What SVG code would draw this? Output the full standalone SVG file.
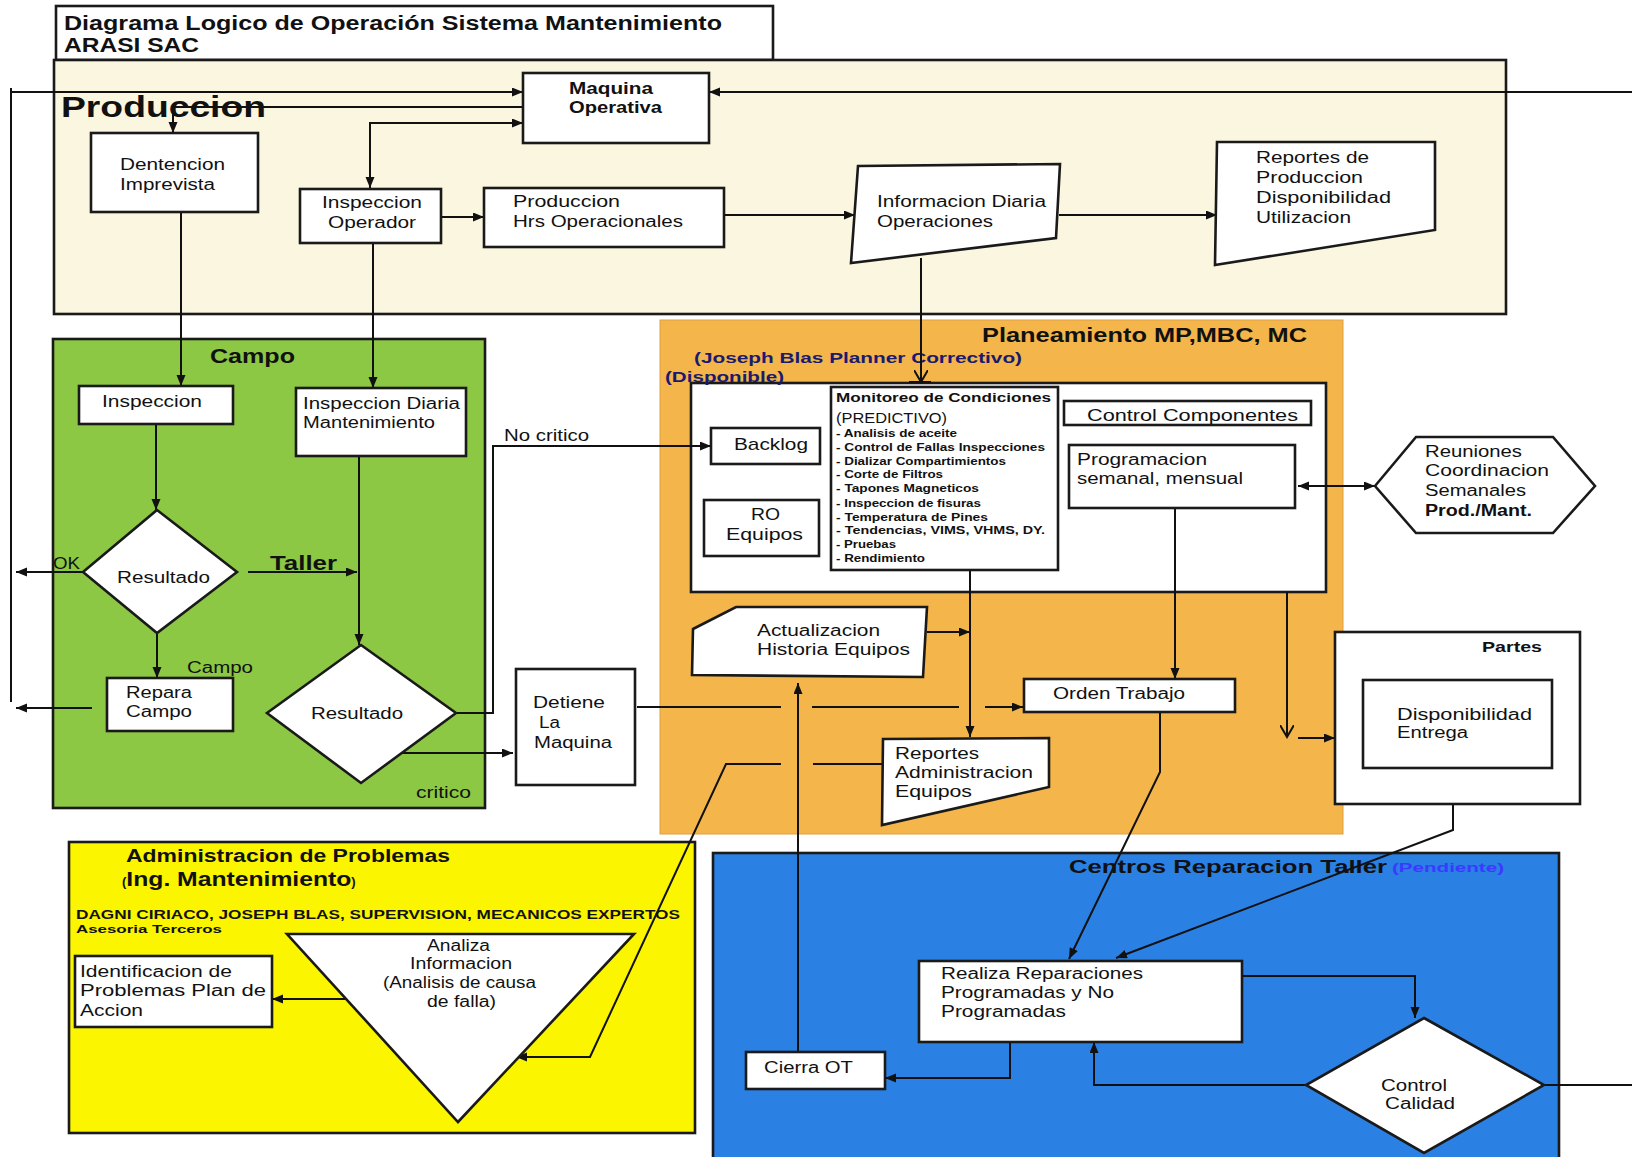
<svg xmlns="http://www.w3.org/2000/svg" width="1632" height="1157" viewBox="0 0 1632 1157">
<style>
  text { font-family: "Liberation Sans", Arial, sans-serif; fill: #111; }
  .t16 { font-size: 16px; }
  .b { font-weight: bold; }
  .box { fill: #fff; stroke: #1a1a1a; stroke-width: 2.6; }
  .lane { stroke: #1a1a1a; stroke-width: 2.6; }
  .ln { fill: none; stroke: #111; stroke-width: 2; }
  .arr { marker-end: url(#ah); }
  .dbl { marker-start: url(#ah); marker-end: url(#ah); }
  .opn { marker-end: url(#av); }
  .item { font-size: 11px; font-weight: bold; }
</style>
<defs>
  <marker id="ah" markerUnits="userSpaceOnUse" markerWidth="12" markerHeight="10" refX="11" refY="4.5" orient="auto-start-reverse">
    <path d="M0,0 L11,4.5 L0,9 z" fill="#111"/>
  </marker>
  <marker id="av" markerUnits="userSpaceOnUse" markerWidth="14" markerHeight="14" refX="12" refY="7" orient="auto">
    <path d="M0,0 L12,7 L0,14" fill="none" stroke="#111" stroke-width="2"/>
  </marker>
</defs>

<rect width="1632" height="1157" fill="#fff"/>

<!-- Title -->
<g id="title">
  <rect x="56" y="6" width="717" height="54" class="box"/>
  <text x="64" y="30" class="b" font-size="20" textLength="658" lengthAdjust="spacingAndGlyphs">Diagrama Logico de Operación Sistema Mantenimiento</text>
  <text x="64" y="52" class="b" font-size="20" textLength="135" lengthAdjust="spacingAndGlyphs">ARASI SAC</text>
</g>

<!-- Swimlanes -->
<g id="lane-produccion">
  <rect x="54" y="60" width="1452" height="254" fill="#faf6df" class="lane"/>
  <text x="61" y="117" class="b" font-size="29" textLength="205" lengthAdjust="spacingAndGlyphs">Produccion</text>
</g>
<g id="lane-campo">
  <rect x="53" y="339" width="432" height="469" fill="#8cc843" class="lane"/>
  <text x="210" y="363" class="b" font-size="20" textLength="85" lengthAdjust="spacingAndGlyphs">Campo</text>
</g>
<g id="lane-planeamiento">
  <rect x="660" y="320" width="683" height="514" fill="#f4b54a" stroke="#e0a040" stroke-width="1"/>
  <text x="982" y="342" class="b" font-size="20" textLength="325" lengthAdjust="spacingAndGlyphs">Planeamiento MP,MBC, MC</text>
  <rect x="691" y="383" width="635" height="209" class="box"/>
  <text x="694" y="363" class="b" font-size="15" style="fill:#1a1a6e" textLength="328" lengthAdjust="spacingAndGlyphs">(Joseph Blas Planner Correctivo)</text>
  <text x="665" y="382" class="b" font-size="15" style="fill:#1a1a6e" textLength="119" lengthAdjust="spacingAndGlyphs">(Disponible)</text>
</g>
<g id="lane-administracion">
  <rect x="69" y="842" width="626" height="291" fill="#fbf500" class="lane"/>
  <text x="126" y="862" class="b" font-size="18" textLength="324" lengthAdjust="spacingAndGlyphs">Administracion de Problemas</text>
  <text x="122" y="886" class="b" font-size="20"><tspan font-size="13">(</tspan><tspan textLength="225" lengthAdjust="spacingAndGlyphs">Ing. Mantenimiento</tspan><tspan font-size="13">)</tspan></text>
  <text x="76" y="919" class="b" font-size="13" textLength="604" lengthAdjust="spacingAndGlyphs">DAGNI CIRIACO, JOSEPH BLAS,  SUPERVISION,  MECANICOS EXPERTOS</text>
  <text x="76" y="933" class="b" font-size="11" textLength="146" lengthAdjust="spacingAndGlyphs">Asesoria Terceros</text>
</g>
<g id="lane-taller">
  <rect x="713" y="853" width="846" height="310" fill="#2b80e3" class="lane"/>
  <text x="1069" y="873" class="b" font-size="18" textLength="318" lengthAdjust="spacingAndGlyphs">Centros Reparacion Taller</text>
  <text x="1392" y="872" class="b" font-size="12" style="fill:#3a3aff" textLength="112" lengthAdjust="spacingAndGlyphs">(Pendiente)</text>
</g>

<!-- Connectors -->
<g id="connectors">
  <path class="ln" d="M11,88 V702"/>
  <path class="ln arr" d="M11,92 H523"/>
  <path class="ln arr" d="M83,572 H16"/>
  <path class="ln arr" d="M92,708 H16"/>
  <path class="ln arr" d="M523,107 H173 V133"/>
  <path class="ln dbl" d="M370,188 V123 H523"/>
  <path class="ln arr" d="M1632,92 H709"/>
  <path class="ln arr" d="M441,217 H484"/>
  <path class="ln arr" d="M724,215 H855"/>
  <path class="ln arr" d="M1059,215 H1217"/>
  <path class="ln opn" d="M921,258 V382"/>
  <path class="ln" d="M909,382 H931"/>
  <path class="ln arr" d="M181,212 V386"/>
  <path class="ln arr" d="M373,243 V388"/>
  <path class="ln arr" d="M156,424 V510"/>
  <path class="ln arr" d="M248,572 H357"/>
  <path class="ln arr" d="M157,633 V678"/>
  <path class="ln arr" d="M359,456 V645"/>
  <path class="ln arr" d="M456,713 H493 V446 H711"/>
  <path class="ln arr" d="M402,753 H513"/>
  <path class="ln" d="M637,707 H781 M812,707 H959"/>
  <path class="ln arr" d="M985,707 H1023"/>
  <path class="ln arr" d="M970,570 V737"/>
  <path class="ln arr" d="M927,632 H970"/>
  <path class="ln arr" d="M1175,508 V679"/>
  <path class="ln opn" d="M1287,592 V737"/>
  <path class="ln arr" d="M1298,738 H1335"/>
  <path class="ln dbl" d="M1298,486 H1375"/>
  <path class="ln arr" d="M798,1052 V683"/>
  <path class="ln" d="M883,764 H813"/>
  <path class="ln arr" d="M781,764 H726 L590,1057 H516"/>
  <path class="ln arr" d="M1160,712 V772 L1069,959"/>
  <path class="ln arr" d="M1453,804 V830 L1116,958"/>
  <path class="ln arr" d="M1242,976 H1415 V1018"/>
  <path class="ln arr" d="M1010,1042 V1078 H885"/>
  <path class="ln arr" d="M1306,1085 H1094 V1042"/>
  <path class="ln" d="M1523,1085 H1632"/>
  <path class="ln arr" d="M346,999 H272"/>
</g>

<!-- Produccion nodes -->
<g id="maquina-operativa">
  <rect x="523" y="73" width="186" height="70" class="box"/>
  <text x="569" y="94" class="b" font-size="16" textLength="84" lengthAdjust="spacingAndGlyphs">Maquina</text>
  <text x="569" y="113" class="b" font-size="16" textLength="93" lengthAdjust="spacingAndGlyphs">Operativa</text>
</g>
<g id="dentencion">
  <rect x="91" y="133" width="167" height="79" class="box"/>
  <text x="120" y="170" class="t16" textLength="105" lengthAdjust="spacingAndGlyphs">Dentencion</text>
  <text x="120" y="190" class="t16" textLength="95" lengthAdjust="spacingAndGlyphs">Imprevista</text>
</g>
<g id="inspeccion-operador">
  <rect x="300" y="189" width="141" height="54" class="box"/>
  <text x="322" y="208" class="t16" textLength="100" lengthAdjust="spacingAndGlyphs">Inspeccion</text>
  <text x="328" y="228" class="t16" textLength="88" lengthAdjust="spacingAndGlyphs">Operador</text>
</g>
<g id="produccion-hrs">
  <rect x="484" y="188" width="240" height="59" class="box"/>
  <text x="513" y="207" class="t16" textLength="107" lengthAdjust="spacingAndGlyphs">Produccion</text>
  <text x="513" y="227" class="t16" textLength="170" lengthAdjust="spacingAndGlyphs">Hrs Operacionales</text>
</g>
<g id="informacion-diaria">
  <polygon points="858,166 1060,164 1056,238 851,263" class="box"/>
  <text x="877" y="207" class="t16" textLength="169" lengthAdjust="spacingAndGlyphs">Informacion Diaria</text>
  <text x="877" y="227" class="t16" textLength="116" lengthAdjust="spacingAndGlyphs">Operaciones</text>
</g>
<g id="reportes-produccion">
  <polygon points="1217,142 1435,142 1435,230 1215,265" class="box"/>
  <text x="1256" y="163" class="t16" textLength="113" lengthAdjust="spacingAndGlyphs">Reportes de</text>
  <text x="1256" y="183" class="t16" textLength="107" lengthAdjust="spacingAndGlyphs">Produccion</text>
  <text x="1256" y="203" class="t16" textLength="135" lengthAdjust="spacingAndGlyphs">Disponibilidad</text>
  <text x="1256" y="223" class="t16" textLength="95" lengthAdjust="spacingAndGlyphs">Utilizacion</text>
</g>

<!-- Campo nodes -->
<g id="inspeccion">
  <rect x="79" y="386" width="154" height="38" class="box"/>
  <text x="102" y="407" class="t16" textLength="100" lengthAdjust="spacingAndGlyphs">Inspeccion</text>
</g>
<g id="inspeccion-diaria">
  <rect x="296" y="388" width="170" height="68" class="box"/>
  <text x="303" y="409" class="t16" textLength="157" lengthAdjust="spacingAndGlyphs">Inspeccion Diaria</text>
  <text x="303" y="428" class="t16" textLength="132" lengthAdjust="spacingAndGlyphs">Mantenimiento</text>
</g>
<g id="resultado-1">
  <polygon points="157,510 237,572 157,633 83,572" class="box"/>
  <text x="117" y="583" class="t16" textLength="93" lengthAdjust="spacingAndGlyphs">Resultado</text>
</g>
<g id="repara-campo">
  <rect x="107" y="678" width="126" height="53" class="box"/>
  <text x="126" y="698" class="t16" textLength="66" lengthAdjust="spacingAndGlyphs">Repara</text>
  <text x="126" y="717" class="t16" textLength="66" lengthAdjust="spacingAndGlyphs">Campo</text>
</g>
<g id="resultado-2">
  <polygon points="361,645 456,713 361,783 267,713" class="box"/>
  <text x="311" y="719" class="t16" textLength="92" lengthAdjust="spacingAndGlyphs">Resultado</text>
</g>
<g id="labels-campo">
  <text x="53" y="569" class="t16" textLength="27" lengthAdjust="spacingAndGlyphs">OK</text>
  <text x="270" y="570" class="b" font-size="20" textLength="67" lengthAdjust="spacingAndGlyphs">Taller</text>
  <text x="187" y="673" class="t16" textLength="66" lengthAdjust="spacingAndGlyphs">Campo</text>
  <text x="504" y="441" class="t16" textLength="85" lengthAdjust="spacingAndGlyphs">No critico</text>
  <text x="416" y="798" class="t16" textLength="55" lengthAdjust="spacingAndGlyphs">critico</text>
</g>
<g id="detiene-maquina">
  <rect x="516" y="669" width="119" height="116" class="box"/>
  <text x="533" y="708" class="t16" textLength="72" lengthAdjust="spacingAndGlyphs">Detiene</text>
  <text x="539" y="728" class="t16" textLength="21" lengthAdjust="spacingAndGlyphs">La</text>
  <text x="534" y="748" class="t16" textLength="78" lengthAdjust="spacingAndGlyphs">Maquina</text>
</g>

<!-- Planeamiento nodes -->
<g id="backlog">
  <rect x="711" y="428" width="109" height="36" class="box"/>
  <text x="734" y="450" font-size="17" textLength="74" lengthAdjust="spacingAndGlyphs">Backlog</text>
</g>
<g id="ro-equipos">
  <rect x="704" y="500" width="115" height="56" class="box"/>
  <text x="751" y="520" font-size="17" textLength="29" lengthAdjust="spacingAndGlyphs">RO</text>
  <text x="726" y="540" font-size="17" textLength="77" lengthAdjust="spacingAndGlyphs">Equipos</text>
</g>
<g id="monitoreo">
  <rect x="831" y="387" width="227" height="183" class="box"/>
  <text x="836" y="402" class="b" font-size="12" textLength="215" lengthAdjust="spacingAndGlyphs">Monitoreo de Condiciones</text>
  <text x="836" y="423" font-size="14" textLength="111" lengthAdjust="spacingAndGlyphs">(PREDICTIVO)</text>
  <text x="836" y="437" class="item" textLength="121" lengthAdjust="spacingAndGlyphs">- Analisis de aceite</text>
  <text x="836" y="451" class="item" textLength="209" lengthAdjust="spacingAndGlyphs">- Control de Fallas Inspecciones</text>
  <text x="836" y="465" class="item" textLength="170" lengthAdjust="spacingAndGlyphs">- Dializar Compartimientos</text>
  <text x="836" y="478" class="item" textLength="107" lengthAdjust="spacingAndGlyphs">- Corte de Filtros</text>
  <text x="836" y="492" class="item" textLength="143" lengthAdjust="spacingAndGlyphs">- Tapones Magneticos</text>
  <text x="836" y="507" class="item" textLength="145" lengthAdjust="spacingAndGlyphs">- Inspeccion de fisuras</text>
  <text x="836" y="521" class="item" textLength="152" lengthAdjust="spacingAndGlyphs">- Temperatura de Pines</text>
  <text x="836" y="534" class="item" textLength="209" lengthAdjust="spacingAndGlyphs">- Tendencias, VIMS, VHMS, DY.</text>
  <text x="836" y="548" class="item" textLength="60" lengthAdjust="spacingAndGlyphs">- Pruebas</text>
  <text x="836" y="562" class="item" textLength="89" lengthAdjust="spacingAndGlyphs">- Rendimiento</text>
</g>
<g id="control-componentes">
  <rect x="1064" y="401" width="247" height="24" class="box"/>
  <text x="1087" y="421" class="t16" textLength="211" lengthAdjust="spacingAndGlyphs">Control  Componentes</text>
</g>
<g id="programacion">
  <rect x="1069" y="445" width="226" height="63" class="box"/>
  <text x="1077" y="465" class="t16" textLength="130" lengthAdjust="spacingAndGlyphs">Programacion</text>
  <text x="1077" y="484" class="t16" textLength="166" lengthAdjust="spacingAndGlyphs">semanal, mensual</text>
</g>
<g id="actualizacion">
  <polygon points="693,629 736,607 927,607 923,677 692,675" class="box"/>
  <text x="757" y="636" class="t16" textLength="123" lengthAdjust="spacingAndGlyphs">Actualizacion</text>
  <text x="757" y="655" class="t16" textLength="153" lengthAdjust="spacingAndGlyphs">Historia Equipos</text>
</g>
<g id="orden-trabajo">
  <rect x="1024" y="679" width="211" height="33" class="box"/>
  <text x="1053" y="699" class="t16" textLength="132" lengthAdjust="spacingAndGlyphs">Orden Trabajo</text>
</g>
<g id="reportes-administracion">
  <polygon points="883,739 1049,738 1049,787 882,825" class="box"/>
  <text x="895" y="759" class="t16" textLength="84" lengthAdjust="spacingAndGlyphs">Reportes</text>
  <text x="895" y="778" class="t16" textLength="138" lengthAdjust="spacingAndGlyphs">Administracion</text>
  <text x="895" y="797" class="t16" textLength="77" lengthAdjust="spacingAndGlyphs">Equipos</text>
</g>

<!-- Right side nodes -->
<g id="reuniones">
  <polygon points="1375,486 1416,437 1553,437 1595,486 1553,533 1416,533" class="box"/>
  <text x="1425" y="457" class="t16" textLength="97" lengthAdjust="spacingAndGlyphs">Reuniones</text>
  <text x="1425" y="476" class="t16" textLength="124" lengthAdjust="spacingAndGlyphs">Coordinacion</text>
  <text x="1425" y="496" class="t16" textLength="101" lengthAdjust="spacingAndGlyphs">Semanales</text>
  <text x="1425" y="516" class="t16 b" textLength="107" lengthAdjust="spacingAndGlyphs">Prod./Mant.</text>
</g>
<g id="partes">
  <rect x="1335" y="632" width="245" height="172" class="box"/>
  <text x="1482" y="652" class="b" font-size="15" textLength="60" lengthAdjust="spacingAndGlyphs">Partes</text>
  <rect x="1363" y="680" width="189" height="88" class="box"/>
  <text x="1397" y="720" class="t16" textLength="135" lengthAdjust="spacingAndGlyphs">Disponibilidad</text>
  <text x="1397" y="738" class="t16" textLength="71" lengthAdjust="spacingAndGlyphs">Entrega</text>
</g>

<!-- Administracion nodes -->
<g id="analiza">
  <polygon points="287,934 634,934 458,1122" class="box"/>
  <text x="427" y="951" class="t16" textLength="63" lengthAdjust="spacingAndGlyphs">Analiza</text>
  <text x="410" y="969" class="t16" textLength="102" lengthAdjust="spacingAndGlyphs">Informacion</text>
  <text x="383" y="988" class="t16" textLength="153" lengthAdjust="spacingAndGlyphs">(Analisis de causa</text>
  <text x="427" y="1007" class="t16" textLength="69" lengthAdjust="spacingAndGlyphs">de falla)</text>
</g>
<g id="identificacion">
  <rect x="75" y="956" width="197" height="71" class="box"/>
  <text x="80" y="977" class="t16" textLength="152" lengthAdjust="spacingAndGlyphs">Identificacion de</text>
  <text x="80" y="996" class="t16" textLength="186" lengthAdjust="spacingAndGlyphs">Problemas   Plan de</text>
  <text x="80" y="1016" class="t16" textLength="63" lengthAdjust="spacingAndGlyphs">Accion</text>
</g>

<!-- Taller nodes -->
<g id="realiza-reparaciones">
  <rect x="919" y="961" width="323" height="81" class="box"/>
  <text x="941" y="979" class="t16" textLength="202" lengthAdjust="spacingAndGlyphs">Realiza  Reparaciones</text>
  <text x="941" y="998" class="t16" textLength="173" lengthAdjust="spacingAndGlyphs">Programadas y No</text>
  <text x="941" y="1017" class="t16" textLength="125" lengthAdjust="spacingAndGlyphs">Programadas</text>
</g>
<g id="cierra-ot">
  <rect x="746" y="1052" width="139" height="37" class="box"/>
  <text x="764" y="1073" class="t16" textLength="89" lengthAdjust="spacingAndGlyphs">Cierra OT</text>
</g>
<g id="control-calidad">
  <polygon points="1424,1018 1544,1085 1424,1153 1306,1085" class="box"/>
  <text x="1381" y="1091" class="t16" textLength="66" lengthAdjust="spacingAndGlyphs">Control</text>
  <text x="1385" y="1109" class="t16" textLength="70" lengthAdjust="spacingAndGlyphs">Calidad</text>
</g>
</svg>
